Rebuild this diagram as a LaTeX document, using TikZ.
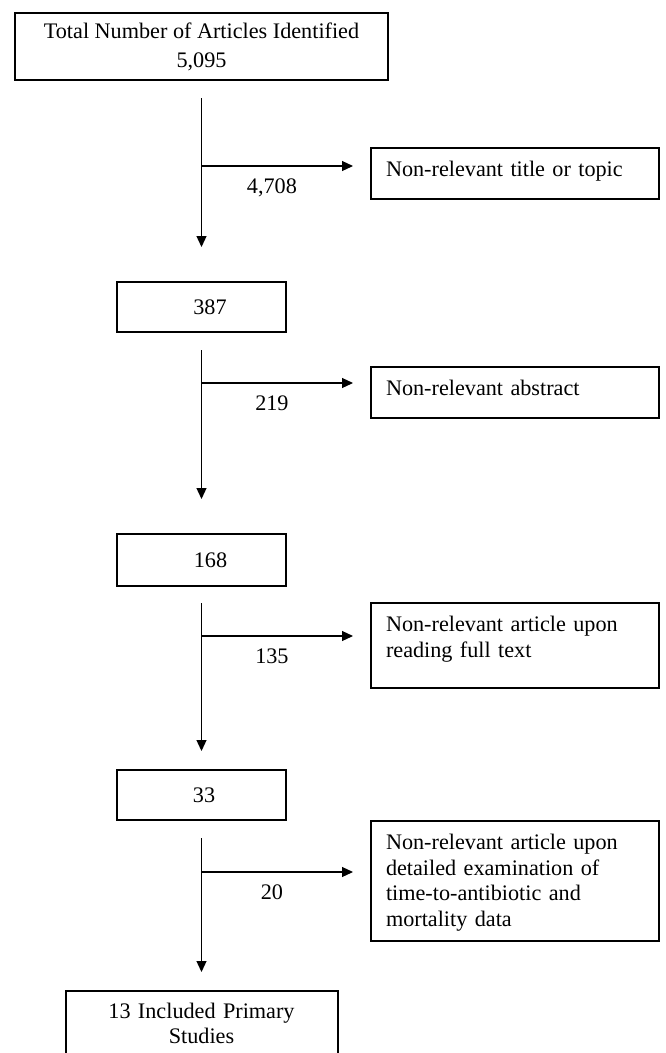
\documentclass[tikz,border=0pt]{standalone}
\usepackage{fontspec}
\setmainfont{Liberation Serif}
\usetikzlibrary{arrows.meta}
\begin{document}
\begin{tikzpicture}[x=1pt,y=-1pt,
  every node/.style={font=\fontsize{22.2pt}{25.5pt}\selectfont},
  boxline/.style={draw, line width=2pt},
  lbox/.style={boxline, minimum width=169pt, minimum height=50pt, inner sep=0pt},
  rbox/.style={boxline, anchor=north west, inner xsep=15pt, inner ysep=0pt,
    text width=258pt, align=left, text height=28.5pt},
  arr/.style={line width=1.2pt, -{Triangle[length=11pt,width=10pt]}},
  lab/.style={pos=0.418, anchor=base, yshift=-27pt}]
\useasboundingbox (0,0) rectangle (665,1053);
\clip (0,0) rectangle (665,1053);

% left column
\node[boxline, minimum width=373pt, minimum height=67pt, align=center, inner sep=0pt]
  (top) at (201.5,46.5) {Total Number of Articles Identified\\[3.5pt]5,095};
\node[lbox] (n387) at (201.5,307) {\hspace*{17pt}387};
\node[lbox, minimum height=52pt] (n168) at (201.5,560) {\hspace*{18pt}168};
\node[lbox] (n33) at (201.5,795) {\hspace*{5pt}33};
\node[boxline, anchor=north, text width=272pt, align=center, inner sep=0pt,
  text height=27pt, text depth=60pt] (fin) at (201.5,990) {13 Included Primary\\Studies};

% right column
\node[rbox, text depth=22.5pt] (r1) at (370,147) {Non-relevant title or topic};
\node[rbox, text depth=22.5pt] (r2) at (370,366) {Non-relevant abstract};
\node[rbox, text depth=56.5pt] (r3) at (370,602) {Non-relevant article upon\\reading full text};
\node[rbox, text depth=91.5pt] (r4) at (370,820) {Non-relevant article upon\\detailed examination of\\time-to-antibiotic and\\mortality data};

% vertical flow
\draw[arr, shorten <=17pt, shorten >=34pt] (top) -- (n387);
\draw[arr, shorten <=17pt, shorten >=34pt] (n387) -- (n168);
\draw[arr, shorten <=16pt, shorten >=18pt] (n168) -- (n33);
\draw[arr, shorten <=17pt, shorten >=18pt] (n33) -- (fin);

% branches
\coordinate (b1) at (201.5,166);
\coordinate (b2) at (201.5,383);
\coordinate (b3) at (201.5,636);
\coordinate (b4) at (201.5,872);
\draw[arr, shorten >=17pt] (b1) -- node[lab] {4,708} (b1 -| r1.west);
\draw[arr, shorten >=17pt] (b2) -- node[lab] {219} (b2 -| r2.west);
\draw[arr, shorten >=17pt] (b3) -- node[lab] {135} (b3 -| r3.west);
\draw[arr, shorten >=17pt] (b4) -- node[lab] {20} (b4 -| r4.west);
\end{tikzpicture}
\end{document}
